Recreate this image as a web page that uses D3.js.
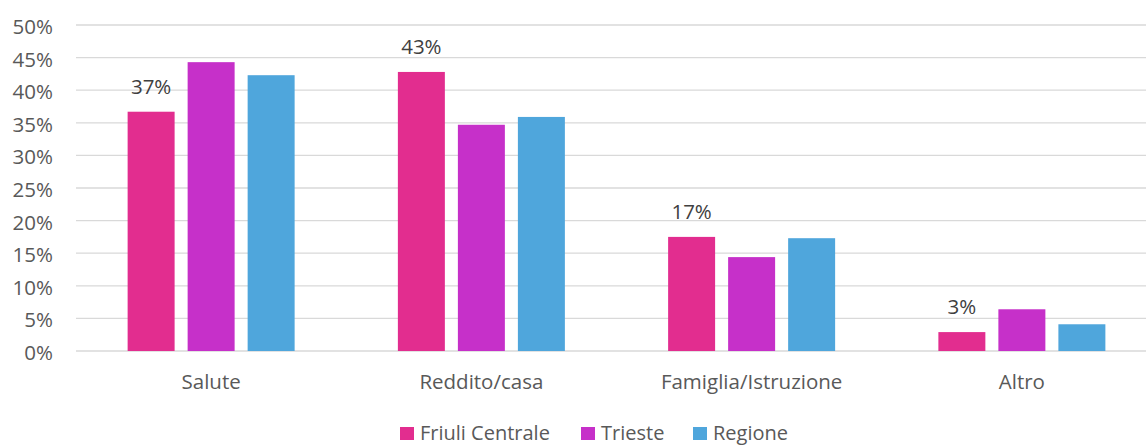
<!DOCTYPE html>
<html>
<head>
<meta charset="utf-8">
<script src="https://cdn.jsdelivr.net/npm/d3@7"></script>
<style>
  body { margin: 0; background: #fff; }
  svg text { font-family: "Open Sans", "Noto Sans", sans-serif; }
</style>
</head>
<body>
<div id="chart"></div>
<script>
// chart data
var categories = ["Salute", "Reddito/casa", "Famiglia/Istruzione", "Altro"];
var seriesNames = ["Friuli Centrale", "Trieste", "Regione"];
var friuliCentrale = [36.7, 42.8, 17.5, 2.9];
var trieste = [44.3, 34.7, 14.4, 6.4];
var regione = [42.3, 35.9, 17.3, 4.1];
var labelText = ["37%", "43%", "17%", "3%"];
var yTicks = [0, 5, 10, 15, 20, 25, 30, 35, 40, 45, 50];
var colors = ["#e22d8f", "#c630c9", "#4fa6dc"];

var width = 1146, height = 446;
// plot area runs a bit past the right edge (cropped in the original)
var plotLeft = 76, plotRight = 1157, plotTop = 25, plotBottom = 351;

var svg = d3.select("#chart").append("svg")
  .attr("width", width)
  .attr("height", height);

var y = d3.scaleLinear().domain([0, 50]).range([plotBottom, plotTop]);
var x0 = d3.scaleBand().domain(categories).range([plotLeft, plotRight]).padding(0);
var groupW = 167;
var x1 = d3.scaleBand().domain(seriesNames).range([0, groupW]).paddingInner(0.217);

// gridlines
svg.append("g").selectAll("line")
  .data(yTicks)
  .enter().append("line")
  .attr("x1", plotLeft).attr("x2", plotRight)
  .attr("y1", function(d) { return y(d); })
  .attr("y2", function(d) { return y(d); })
  .attr("stroke", "#d9d9d9")
  .attr("stroke-width", 1.3);

// y labels
svg.append("g").selectAll("text")
  .data(yTicks)
  .enter().append("text")
  .attr("x", 53).attr("y", function(d) { return y(d) + 9; })
  .attr("text-anchor", "end")
  .attr("font-size", 20.5)
  .attr("fill", "#595959")
  .text(function(d) { return d + "%"; });

var allSeries = [friuliCentrale, trieste, regione];
var rows = [];
categories.forEach(function(c, i) {
  seriesNames.forEach(function(s, j) {
    rows.push({cat: c, ser: s, val: allSeries[j][i], idx: j});
  });
});

var off = (x0.bandwidth() - groupW) / 2;
svg.append("g").selectAll("rect")
  .data(rows)
  .enter().append("rect")
  .attr("x", function(d) { return x0(d.cat) + off + x1(d.ser); })
  .attr("y", function(d) { return y(d.val); })
  .attr("width", x1.bandwidth())
  .attr("height", function(d) { return y(0) - y(d.val); })
  .attr("fill", function(d) { return colors[d.idx]; });

// data labels for first series only
svg.append("g").selectAll("text")
  .data(categories)
  .enter().append("text")
  .attr("x", function(d) { return x0(d) + off + x1(seriesNames[0]) + x1.bandwidth() / 2; })
  .attr("y", function(d, i) { return y(friuliCentrale[i]) - 18; })
  .attr("text-anchor", "middle")
  .attr("font-size", 20.5)
  .attr("fill", "#404040")
  .text(function(d, i) { return labelText[i]; });

// category labels
svg.append("g").selectAll("text")
  .data(categories)
  .enter().append("text")
  .attr("x", function(d) { return x0(d) + x0.bandwidth() / 2; })
  .attr("y", 389)
  .attr("text-anchor", "middle")
  .attr("font-size", 20.5)
  .attr("fill", "#595959")
  .text(function(d) { return d; });

// legend
var legendX = [400, 581, 693];
var legend = svg.append("g").selectAll("g")
  .data(seriesNames)
  .enter().append("g")
  .attr("transform", function(d, i) { return "translate(" + legendX[i] + ",427)"; });
legend.append("rect")
  .attr("width", 14).attr("height", 13)
  .attr("fill", function(d, i) { return colors[i]; });
legend.append("text")
  .attr("x", 20).attr("y", 13)
  .attr("font-size", 20)
  .attr("fill", "#595959")
  .text(function(d) { return d; });
</script>
</body>
</html>
